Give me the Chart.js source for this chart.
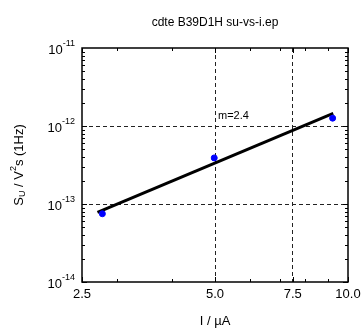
<!DOCTYPE html>
<html>
<head>
<meta charset="utf-8">
<script src="https://cdn.jsdelivr.net/npm/chart.js@4"></script>
<style>
  html, body { margin: 0; padding: 0; background: #fff; }
  #wrap { width: 363px; height: 329px; }
</style>
</head>
<body>
<div id="wrap"><canvas id="noiseChart"></canvas></div>
<script>
// measured points: current in uA, noise S_U in V^2 s at 1Hz
let current = [2.78, 4.98, 9.23]
let noise = [7.5e-14, 3.9e-13, 1.26e-12]

// fitted power law (slope m=2.4), end points
let fitCurrent = [2.71, 9.26]
let fitNoise = [7.8e-14, 1.45e-12]

// tick labels
let xTicks = [2.5, 5.0, 7.5, 10.0]
let xMinor = [3, 4, 6, 7, 8, 9]
let yDecades = [-14, -13, -12, -11]

let titleText = 'cdte B39D1H su-vs-i.ep'
let slopeText = 'm=2.4'

const FONT = '"Liberation Sans", Arial, sans-serif';

// draws the frame, the inward ticks and all labels
const framePlugin = {
    id: 'frame',
    afterDraw(chart) {
        const ctx = chart.ctx;
        const x = chart.scales.x, y = chart.scales.y;
        const a = chart.chartArea;
        ctx.save();

        // minor / major ticks, pointing inward
        ctx.strokeStyle = '#000';
        ctx.lineWidth = 1;
        ctx.beginPath();
        xMinor.concat(xTicks).forEach(function(v) {
            const px = Math.round(x.getPixelForValue(v)) + 0.5;
            const len = xMinor.includes(v) ? 3 : 5;
            ctx.moveTo(px, a.bottom); ctx.lineTo(px, a.bottom - len);
            ctx.moveTo(px, a.top); ctx.lineTo(px, a.top + len);
        });
        for (let d = -14; d < -11; d++) {
            for (let k = 1; k < 10; k++) {
                const py = Math.round(y.getPixelForValue(k * Math.pow(10, d))) + 0.5;
                const len = k === 1 ? 5 : 3;
                ctx.moveTo(a.left, py); ctx.lineTo(a.left + len, py);
                ctx.moveTo(a.right, py); ctx.lineTo(a.right - len, py);
            }
        }
        ctx.stroke();

        // box
        ctx.lineWidth = 1.5;
        ctx.strokeRect(a.left, a.top, a.right - a.left, a.bottom - a.top);

        ctx.fillStyle = '#000';
        // x tick labels
        ctx.font = '13px ' + FONT;
        ctx.textAlign = 'center';
        ctx.textBaseline = 'middle';
        xTicks.forEach(function(v) {
            ctx.fillText(v.toFixed(1), x.getPixelForValue(v), a.bottom + 12);
        });

        // y tick labels 10^n
        yDecades.forEach(function(d) {
            const py = y.getPixelForValue(Math.pow(10, d));
            const right = a.left - 7;
            ctx.font = '9px ' + FONT;
            ctx.textAlign = 'right';
            ctx.textBaseline = 'alphabetic';
            const sup = String(d);
            const supW = ctx.measureText(sup).width;
            ctx.fillText(sup, right, py - 2);
            ctx.font = '13px ' + FONT;
            ctx.fillText('10', right - supW, py + 6);
        });

        // title
        ctx.font = '12px ' + FONT;
        ctx.textAlign = 'center';
        ctx.textBaseline = 'middle';
        ctx.fillText(titleText, (a.left + a.right) / 2, 23);

        // x axis title
        ctx.font = '13px ' + FONT;
        ctx.fillText('I / \u00b5A', (a.left + a.right) / 2, 321);

        // y axis title, S_U / V^2s (1Hz)
        ctx.translate(19, (a.top + a.bottom) / 2);
        ctx.rotate(-Math.PI / 2);
        const parts = [['S', 13, 0], ['U', 9, 4], [' / V', 13, 0], ['2', 9, -5], ['s (1Hz)', 13, 0]];
        let total = 0;
        parts.forEach(function(p) { ctx.font = p[1] + 'px ' + FONT; total += ctx.measureText(p[0]).width; });
        let cx = -total / 2;
        ctx.textAlign = 'left';
        ctx.textBaseline = 'middle';
        parts.forEach(function(p) {
            ctx.font = p[1] + 'px ' + FONT;
            ctx.fillText(p[0], cx, p[2]);
            cx += ctx.measureText(p[0]).width;
        });
        ctx.setTransform(1, 0, 0, 1, 0, 0);

        // slope annotation
        ctx.font = '11px ' + FONT;
        ctx.textAlign = 'left';
        ctx.fillText(slopeText, x.getPixelForValue(5.0) + 3, y.getPixelForValue(1.45e-12) + 3);

        ctx.restore();
    }
};

var ctxNoise = document.getElementById('noiseChart').getContext('2d');
var chartNoise = new Chart(ctxNoise, {
    type: 'scatter',
    data: {
        datasets: [{
            label: 'data',
            data: current.map(function(v, i) { return {x: v, y: noise[i]}; }),
            backgroundColor: '#0000ff',
            borderColor: '#0000ff',
            pointRadius: 3,
            showLine: false,
            order: 0
        }, {
            label: 'fit',
            data: fitCurrent.map(function(v, i) { return {x: v, y: fitNoise[i]}; }),
            borderColor: '#000',
            borderWidth: 3,
            pointRadius: 0,
            showLine: true,
            order: 1
        }]
    },
    options: {
        responsive: true,
        maintainAspectRatio: false,
        animation: false,
        layout: { padding: { left: 82, right: 15, top: 48, bottom: 47 } },
        plugins: { legend: { display: false }, tooltip: { enabled: false } },
        scales: {
            x: {
                type: 'logarithmic',
                min: 2.5, max: 10,
                afterBuildTicks: function(s) { s.ticks = xTicks.map(function(v) { return {value: v}; }); },
                ticks: { display: false },
                // in v4 the grid line dash lives on border.dash
                border: { display: false, dash: [4, 3] },
                grid: {
                    drawTicks: false,
                    color: function(c) { return (c.tick && (c.tick.value === 5 || c.tick.value === 7.5)) ? '#222' : 'rgba(0,0,0,0)'; },
                    lineWidth: 1
                }
            },
            y: {
                type: 'logarithmic',
                min: 1e-14, max: 1e-11,
                afterBuildTicks: function(s) { s.ticks = yDecades.map(function(d) { return {value: Math.pow(10, d)}; }); },
                ticks: { display: false },
                border: { display: false, dash: [4, 3] },
                grid: {
                    drawTicks: false,
                    color: function(c) {
                        if (!c.tick) return 'rgba(0,0,0,0)';
                        const e = Math.round(Math.log10(c.tick.value));
                        return (e === -12 || e === -13) ? '#222' : 'rgba(0,0,0,0)';
                    },
                    lineWidth: 1
                }
            }
        }
    },
    plugins: [framePlugin]
});
</script>
</body>
</html>
